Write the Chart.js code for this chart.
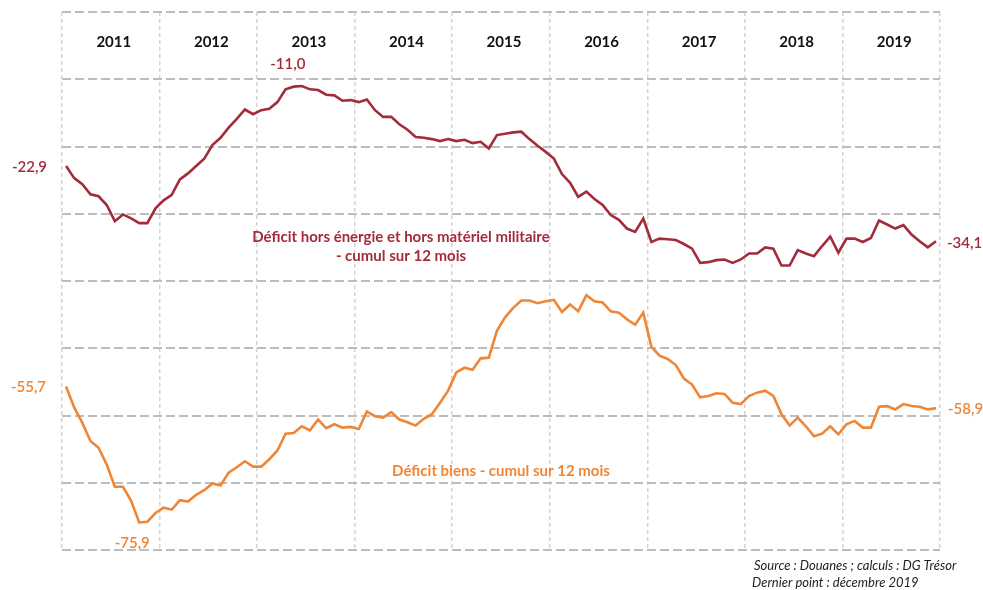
<!DOCTYPE html>
<html lang="fr">
<head>
<meta charset="utf-8">
<title>Déficit commercial - cumul sur 12 mois</title>
<script src="https://cdn.jsdelivr.net/npm/chart.js@4.4.1/dist/chart.umd.min.js"></script>
<style>
  html, body { margin: 0; padding: 0; background: #fff; }
  canvas { display: block; }
</style>
</head>
<body>
<canvas id="chart" width="983" height="590"></canvas>
<script>
// Années (une étiquette par bloc de 12 mois)
var years = ['2011', '2012', '2013', '2014', '2015', '2016', '2017', '2018', '2019'];

// Déficit hors énergie et hors matériel militaire (Md€, cumul 12 mois), janv. 2011 -> déc. 2019
var deficitHorsEnergie = [
    -22.9, -24.7, -25.6, -27.1, -27.4, -28.7, -31.1, -30.1, -30.7, -31.4, -31.4, -29.2,
    -28.0, -27.2, -24.9, -24.0, -22.9, -21.8, -19.8, -18.7, -17.2, -15.9, -14.5, -15.2,
    -14.6, -14.4, -13.4, -11.5, -11.1, -11.0, -11.5, -11.6, -12.3, -12.4, -13.2, -13.1,
    -13.4, -13.0, -14.6, -15.6, -15.6, -16.7, -17.5, -18.6, -18.7, -18.9, -19.2, -18.9,
    -19.2, -19.0, -19.5, -19.3, -20.3, -18.3, -18.1, -17.9, -17.8, -18.9, -19.9, -20.8,
    -21.8, -24.1, -25.4, -27.5, -26.7, -27.8, -28.7, -30.2, -30.9, -32.2, -32.7, -30.7,
    -34.2, -33.7, -33.8, -33.9, -34.5, -35.2, -37.3, -37.2, -36.9, -36.8, -37.3, -36.8,
    -35.9, -35.9, -35.0, -35.2, -37.7, -37.7, -35.4, -35.9, -36.3, -34.8, -33.4, -35.8,
    -33.7, -33.7, -34.2, -33.6, -31.0, -31.6, -32.2, -31.7, -33.1, -34.1, -35.0, -34.1
];

// Déficit biens (Md€, cumul 12 mois)
var deficitBiens = [
    -55.7, -58.8, -61.1, -63.8, -64.8, -67.3, -70.6, -70.6, -72.7, -75.9, -75.8, -74.5,
    -73.7, -74.0, -72.6, -72.8, -71.8, -71.1, -70.1, -70.4, -68.5, -67.7, -66.8, -67.6,
    -67.6, -66.5, -65.2, -62.7, -62.6, -61.6, -62.2, -60.6, -61.9, -61.3, -61.8, -61.7,
    -62.0, -59.4, -60.1, -60.3, -59.5, -60.6, -61.0, -61.5, -60.5, -59.8, -58.1, -56.3,
    -53.6, -52.9, -53.2, -51.5, -51.4, -47.4, -45.4, -44.0, -42.9, -42.9, -43.3, -43.0,
    -42.8, -44.6, -43.5, -44.5, -42.1, -43.0, -43.2, -44.5, -44.7, -45.7, -46.5, -44.7,
    -49.8, -51.1, -51.6, -52.5, -54.5, -55.4, -57.3, -57.1, -56.7, -56.8, -58.1, -58.3,
    -57.1, -56.6, -56.3, -57.1, -59.8, -61.5, -60.3, -61.6, -63.1, -62.7, -61.6, -62.8,
    -61.3, -60.8, -61.8, -61.8, -58.7, -58.6, -59.1, -58.3, -58.6, -58.7, -59.1, -58.9
];

var yTicks = { min: -80, max: 0, step: 10 };

var RED = '#a32c3b';
var ORANGE = '#ef8636';
var FONT = 'Lato, "Open Sans", sans-serif';

// un point par mois, centré dans son mois
function toPoints(arr) {
    return arr.map(function (v, i) { return { x: i + 0.5, y: v }; });
}

function fmt(v) {
    return v.toFixed(1).replace('.', ',');
}

function indexOfMax(arr) {
    var k = 0;
    arr.forEach(function (v, i) { if (v > arr[k]) k = i; });
    return k;
}
function indexOfMin(arr) {
    var k = 0;
    arr.forEach(function (v, i) { if (v < arr[k]) k = i; });
    return k;
}

// Textes : années, valeurs remarquables, titres des séries, source
var labelsPlugin = {
    id: 'labels',
    afterDraw: function (chart) {
        var ctx = chart.ctx;
        var xs = chart.scales.x, ys = chart.scales.y;
        var px = function (i) { return xs.getPixelForValue(i + 0.5); };
        var py = function (v) { return ys.getPixelForValue(v); };
        ctx.save();
        ctx.textBaseline = 'middle';

        // années
        ctx.fillStyle = '#111';
        ctx.font = 'bold 15px ' + FONT;
        ctx.textAlign = 'center';
        years.forEach(function (y, k) {
            ctx.fillText(y, xs.getPixelForValue(k * 12 + 6) + 3, 42);
        });

        var n = deficitHorsEnergie.length - 1;
        var iMax = indexOfMax(deficitHorsEnergie);
        var iMin = indexOfMin(deficitBiens);

        // valeurs rouges
        ctx.fillStyle = RED;
        ctx.font = '600 15px ' + FONT;
        ctx.textAlign = 'right';
        ctx.fillText(fmt(deficitHorsEnergie[0]), px(0) - 19, py(deficitHorsEnergie[0]) + 1);
        ctx.textAlign = 'center';
        ctx.fillText(fmt(deficitHorsEnergie[iMax]), px(iMax) - 14, py(deficitHorsEnergie[iMax]) - 22);
        ctx.textAlign = 'left';
        ctx.fillText(fmt(deficitHorsEnergie[n]), px(n) + 11, py(deficitHorsEnergie[n]) + 2);

        // valeurs orange
        ctx.fillStyle = ORANGE;
        ctx.textAlign = 'right';
        ctx.fillText(fmt(deficitBiens[0]), px(0) - 20, py(deficitBiens[0]) + 1);
        ctx.textAlign = 'center';
        ctx.fillText(fmt(deficitBiens[iMin]), px(iMin) - 7, py(deficitBiens[iMin]) + 21);
        ctx.textAlign = 'left';
        ctx.fillText(fmt(deficitBiens[n]), px(n) + 12, py(deficitBiens[n]) + 1);

        // titres des séries
        ctx.font = 'bold 15px ' + FONT;
        ctx.textAlign = 'center';
        ctx.fillStyle = RED;
        ctx.fillText('Déficit hors énergie et hors matériel militaire', 401, 237);
        ctx.fillText('- cumul sur 12 mois', 401, 256);
        ctx.fillStyle = ORANGE;
        ctx.fillText('Déficit biens - cumul sur 12 mois', 501, 471);

        // source
        ctx.fillStyle = '#222';
        ctx.font = 'italic 13px ' + FONT;
        ctx.textAlign = 'left';
        ctx.fillText('Source : Douanes ; calculs : DG Trésor', 754, 566);
        ctx.fillText('Dernier point : décembre 2019', 752, 583);
        ctx.restore();
    }
};

var chart = new Chart(document.getElementById('chart'), {
    type: 'line',
    data: {
        datasets: [{
            label: 'Déficit hors énergie et hors matériel militaire - cumul sur 12 mois',
            data: toPoints(deficitHorsEnergie),
            borderColor: RED,
            borderWidth: 2.6,
            pointRadius: 0,
            tension: 0,
            fill: false
        }, {
            label: 'Déficit biens - cumul sur 12 mois',
            data: toPoints(deficitBiens),
            borderColor: ORANGE,
            borderWidth: 2.6,
            pointRadius: 0,
            tension: 0,
            fill: false
        }]
    },
    options: {
        responsive: false,
        animation: false,
        devicePixelRatio: 1,
        layout: { padding: { left: 62, right: 43, top: 12, bottom: 40 } },
        plugins: {
            legend: { display: false },
            tooltip: { enabled: false }
        },
        scales: {
            x: {
                type: 'linear',
                min: 0,
                max: years.length * 12,
                ticks: { display: false, stepSize: 12 },
                border: { display: false, dash: [4, 3] },
                grid: {
                    drawTicks: false,
                    color: '#d4d4d4',
                    lineWidth: 1.5
                }
            },
            y: {
                min: yTicks.min,
                max: yTicks.max,
                ticks: { display: false, stepSize: yTicks.step },
                border: { display: false, dash: [9, 4] },
                grid: {
                    drawTicks: false,
                    color: '#bdbdbd',
                    lineWidth: 2
                }
            }
        }
    },
    plugins: [labelsPlugin]
});
</script>
</body>
</html>
